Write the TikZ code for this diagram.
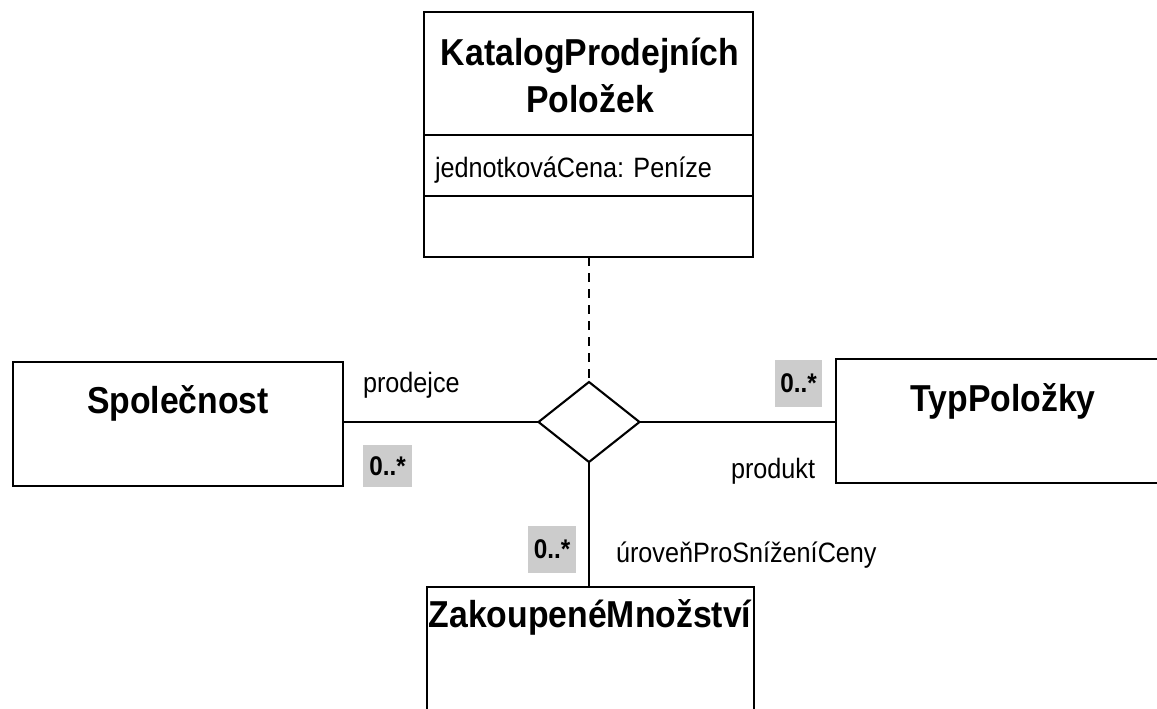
\documentclass[tikz,border=0pt]{standalone}
\usepackage{fontspec}
\newfontfamily\uml{Liberation Sans}[FakeStretch=0.9]
\usetikzlibrary{shapes.geometric}
\definecolor{multgray}{RGB}{204,204,204}
\begin{document}
\begin{tikzpicture}[x=1pt,y=-1pt,
  line width=2.1pt,
  cls/.style={draw, rectangle, inner sep=0pt, outer sep=0pt, line width=2.1pt},
  ttl/.style={font=\uml\bfseries\fontsize{37.5}{47}\selectfont, inner sep=0pt},
  txt/.style={font=\uml\fontsize{28}{34}\selectfont, inner sep=0pt},
  mult/.style={fill=multgray, font=\uml\bfseries\fontsize{27}{32}\selectfont, inner sep=0pt},
  link/.style={draw, line width=2.1pt},
  ]
\useasboundingbox (0,0) rectangle (1157,709);
\clip (0,0) rectangle (1157,709);
\fill[white] (0,0) rectangle (1157,709);

% class boxes
\node[cls, minimum width=329pt, minimum height=245pt] (katalog) at (588.5,134.5) {};
\draw (katalog.west |- 0,135) -- (katalog.east |- 0,135);
\draw (katalog.west |- 0,196) -- (katalog.east |- 0,196);
\node[ttl, align=center, anchor=base] (ktitle) at (590,112) {KatalogProdejních\\Položek};
\node[txt, anchor=base west] (attr) at (434,177) {jednotkováCena: Peníze};

\node[cls, minimum width=330pt, minimum height=124pt] (spol) at (178,424) {};
\node[ttl, anchor=base] (spoltxt) at (178,413) {Společnost};

\node[cls, minimum width=339pt, minimum height=124pt] (typ) at (1005.5,421) {};
\node[ttl, anchor=base] (typtxt) at (1003,411) {TypPoložky};

\node[cls, minimum width=327pt, minimum height=143pt] (zak) at (590.5,658.5) {};
\node[ttl, anchor=base] (zaktxt) at (590,627) {ZakoupenéMnožství};

% association diamond
\node[draw, diamond, shape aspect=1.2625, minimum width=101pt, minimum height=80pt, inner sep=0pt, outer sep=0pt] (assoc) at (589,422) {};

% connectors
\draw[link] (assoc.west) -- (assoc.west -| spol.east);
\draw[link] (assoc.east) -- (assoc.east -| typ.west);
\draw[link] (assoc.south) -- (assoc.south |- zak.north);
\draw[link, dash pattern=on 9pt off 7pt] (assoc.north |- katalog.south) -- (assoc.north);

% multiplicities
\node[mult, minimum width=49pt, minimum height=42pt] (m1) at (387.5,466) {0..*};
\node[mult, minimum width=47pt, minimum height=47pt] (m2) at (798.5,383.5) {0..*};
\node[mult, minimum width=48pt, minimum height=47pt] (m3) at (552,549.5) {0..*};

% role names
\node[txt, anchor=base west] (prod) at (362,392) {prodejce};
\node[txt, anchor=base west] (produkt) at (730,478) {produkt};
\node[txt, anchor=base west] (uroven) at (615,562) {úroveňProSníženíCeny};
\end{tikzpicture}
\end{document}
